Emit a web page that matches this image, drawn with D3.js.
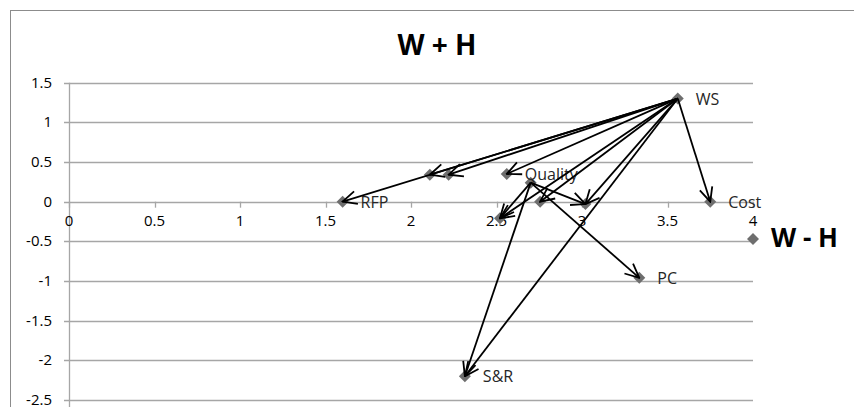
<!DOCTYPE html>
<html>
<head>
<meta charset="utf-8">
<script src="https://cdn.jsdelivr.net/npm/d3@7"></script>
<style>
  body { margin: 0; background: #fff; }
  text { font-family: "Open Sans", sans-serif; }
</style>
</head>
<body>
<div id="chart"></div>
<script>
// points (W - H, W + H)
const names  = ["WS", "Cost", "RFP", "", "", "Quality", "", "", "", "", "PC", "S&R", ""];
const xVals  = [3.56, 3.75, 1.6, 2.11, 2.22, 2.56, 2.70, 2.755, 3.02, 2.52, 3.335, 2.315, 4.0];
const yVals  = [1.30, 0.0, 0.0, 0.34, 0.34, 0.35, 0.24, 0.0, -0.03, -0.21, -0.96, -2.2, -0.47];
// arrows: [from, to] by point index
const arrowFrom = [0, 0, 0, 0, 0, 0, 0, 0, 0, 6, 6, 6, 6];
const arrowTo   = [2, 3, 4, 5, 9, 7, 8, 11, 1, 9, 11, 10, 8];
const xTicks = [0, 0.5, 1, 1.5, 2, 2.5, 3, 3.5, 4];
const yTicks = [1.5, 1, 0.5, 0, -0.5, -1, -1.5, -2, -2.5];

const width = 854, height = 407;
const svg = d3.select("#chart").append("svg")
    .attr("width", width)
    .attr("height", height);

// chart frame
svg.append("rect")
    .attr("x", 10.5).attr("y", 10.5)
    .attr("width", 900).attr("height", 500)
    .attr("fill", "none").attr("stroke", "#8c8c8c");

const x = d3.scaleLinear().domain([0, 4]).range([69, 753]);
const y = d3.scaleLinear().domain([-2.5, 1.5]).range([400, 82.7]);

// horizontal gridlines
svg.append("g").selectAll("line")
    .data(yTicks)
    .join("line")
    .attr("x1", x(0) - 5).attr("x2", x(4))
    .attr("y1", d => Math.round(y(d)) + 0.5)
    .attr("y2", d => Math.round(y(d)) + 0.5)
    .attr("stroke", "#a6a6a6").attr("stroke-width", 1.3);

// y axis line
svg.append("line")
    .attr("x1", x(0) + 0.5).attr("x2", x(0) + 0.5)
    .attr("y1", y(1.5)).attr("y2", height)
    .attr("stroke", "#a6a6a6").attr("stroke-width", 1.3);

// x axis ticks (below the 0 line)
svg.append("g").selectAll("line")
    .data(xTicks)
    .join("line")
    .attr("x1", d => Math.round(x(d)) + 0.5).attr("x2", d => Math.round(x(d)) + 0.5)
    .attr("y1", y(0)).attr("y2", y(0) + 6)
    .attr("stroke", "#a6a6a6").attr("stroke-width", 1.3);

// tick labels
svg.append("g").selectAll("text")
    .data(yTicks)
    .join("text")
    .attr("x", 52).attr("y", d => y(d) + 5)
    .attr("text-anchor", "end")
    .attr("font-size", 15).attr("fill", "#000")
    .text(d => d);

svg.append("g").selectAll("text")
    .data(xTicks)
    .join("text")
    .attr("x", d => x(d)).attr("y", y(0) + 24)
    .attr("text-anchor", "middle")
    .attr("font-size", 15).attr("fill", "#000")
    .text(d => d);

// titles
svg.append("text")
    .attr("x", 437).attr("y", 55)
    .attr("text-anchor", "middle")
    .attr("font-size", 28).attr("font-weight", "bold")
    .text("W + H");

svg.append("text")
    .attr("x", 771).attr("y", 247)
    .attr("font-size", 26).attr("font-weight", "bold")
    .text("W - H");

// points
const pts = xVals.map((v, i) => ({x: v, y: yVals[i], name: names[i]}));

svg.append("g").selectAll("path")
    .data(pts)
    .join("path")
    .attr("d", d3.symbol().type(d3.symbolSquare).size(72))
    .attr("transform", d => `translate(${x(d.x)},${y(d.y)}) rotate(45)`)
    .attr("fill", "#6e6e6e");

// point labels
svg.append("g").selectAll("text")
    .data(pts.filter(d => d.name))
    .join("text")
    .attr("x", d => x(d.x) + 18).attr("y", d => y(d.y) + 6)
    .attr("font-size", 16).attr("fill", "#262626")
    .text(d => d.name);

// arrowhead
svg.append("defs").append("marker")
    .attr("id", "arrow")
    .attr("viewBox", "0 0 16 16")
    .attr("refX", 15).attr("refY", 8)
    .attr("markerWidth", 16).attr("markerHeight", 16)
    .attr("markerUnits", "userSpaceOnUse")
    .attr("orient", "auto")
    .append("path")
    .attr("d", "M1,1.5 L15,8 L1,14.5")
    .attr("fill", "none").attr("stroke", "#000").attr("stroke-width", 1.8);

svg.append("g").selectAll("line")
    .data(arrowFrom.map((f, i) => [pts[f], pts[arrowTo[i]]]))
    .join("line")
    .attr("x1", d => x(d[0].x)).attr("y1", d => y(d[0].y))
    .attr("x2", d => x(d[1].x)).attr("y2", d => y(d[1].y))
    .attr("stroke", "#000").attr("stroke-width", 1.8)
    .attr("marker-end", "url(#arrow)");
</script>
</body>
</html>
